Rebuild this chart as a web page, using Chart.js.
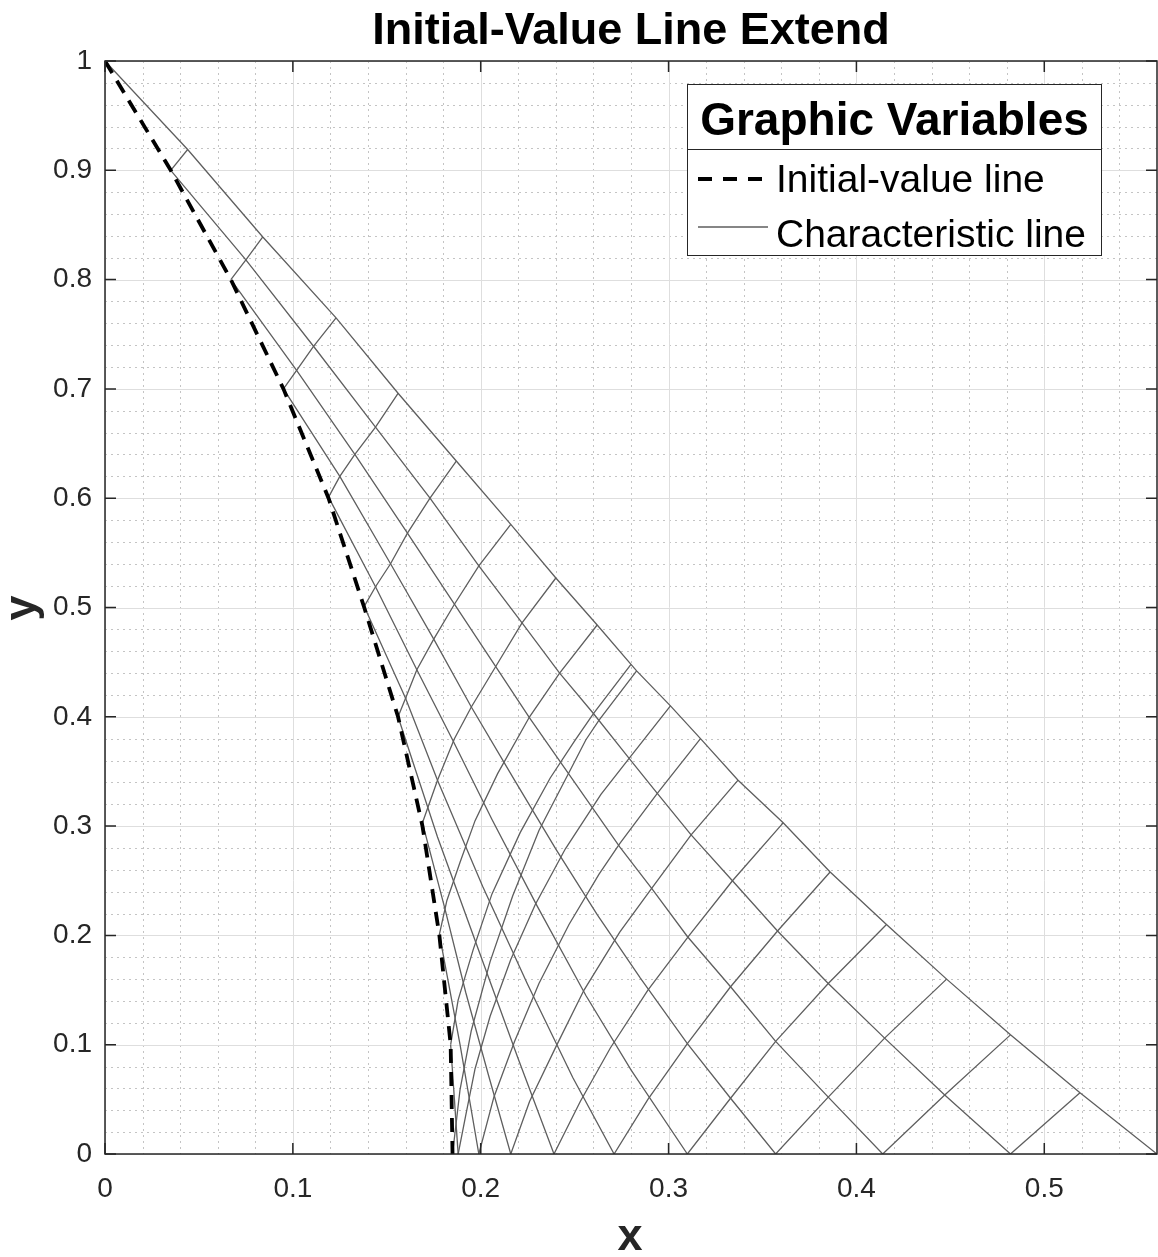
<!DOCTYPE html>
<html>
<head>
<meta charset="utf-8">
<title>Initial-Value Line Extend</title>
<script src="https://cdn.jsdelivr.net/npm/chart.js@4.4.1/dist/chart.umd.min.js"></script>
<style>
    html, body { margin: 0; padding: 0; background: #ffffff; }
    #wrap { width: 1158px; height: 1257px; }
</style>
</head>
<body>
<div id="wrap"><canvas id="graph1" width="1158" height="1257"></canvas></div>
<script>
/*
    Characteristic net: initial-value line plus the two families of characteristics
*/

// initial-value line (dashed)
const initX = [0, 0.035, 0.067, 0.095, 0.119, 0.138, 0.156, 0.169, 0.178, 0.184, 0.185];
const initY = [1, 0.9, 0.8, 0.7, 0.6, 0.5, 0.4, 0.3, 0.2, 0.1, 0];

// C- characteristics, one line per initial point, running down to y = 0
const minusX = [
    [0, 0.044, 0.084, 0.123, 0.156, 0.187, 0.216, 0.240, 0.262, 0.280, 0.283, 0.301, 0.317, 0.337, 0.361, 0.386, 0.416, 0.448, 0.482, 0.519, 0.56],
    [0.035, 0.075, 0.111, 0.144, 0.173, 0.199, 0.222, 0.242, 0.260, 0.279, 0.294, 0.312, 0.334, 0.358, 0.385, 0.415, 0.447, 0.482],
    [0.067, 0.102, 0.133, 0.161, 0.186, 0.208, 0.226, 0.274, 0.291, 0.310, 0.333, 0.357, 0.385, 0.414],
    [0.095, 0.125, 0.152, 0.175, 0.195, 0.218, 0.240, 0.262, 0.285, 0.310, 0.333, 0.357],
    [0.119, 0.144, 0.166, 0.185, 0.206, 0.230, 0.256, 0.280, 0.310],
    [0.138, 0.160, 0.177, 0.201, 0.225, 0.249, 0.271],
    [0.156, 0.177, 0.199, 0.220, 0.239],
    [0.169, 0.181, 0.192, 0.204, 0.216],
    [0.178, 0.189, 0.199],
    [0.184, 0.188]
];
const minusY = [
    [1, 0.919, 0.839, 0.765, 0.696, 0.634, 0.576, 0.527, 0.484, 0.448, 0.442, 0.410, 0.380, 0.342, 0.303, 0.258, 0.210, 0.160, 0.109, 0.056, 0],
    [0.900, 0.818, 0.739, 0.665, 0.600, 0.538, 0.486, 0.440, 0.403, 0.362, 0.330, 0.292, 0.250, 0.204, 0.156, 0.106, 0.054, 0],
    [0.800, 0.717, 0.640, 0.568, 0.503, 0.446, 0.399, 0.281, 0.243, 0.199, 0.153, 0.103, 0.052, 0],
    [0.700, 0.620, 0.540, 0.471, 0.409, 0.342, 0.279, 0.219, 0.161, 0.101, 0.051, 0],
    [0.601, 0.519, 0.443, 0.379, 0.306, 0.227, 0.145, 0.077, 0],
    [0.501, 0.417, 0.342, 0.245, 0.155, 0.070, 0],
    [0.400, 0.290, 0.186, 0.087, 0],
    [0.303, 0.224, 0.148, 0.073, 0],
    [0.201, 0.100, 0],
    [0.100, 0]
];

// C+ characteristics from the initial points, running up to the outer C- line
const plusX = [
    [0.035, 0.044],
    [0.067, 0.075, 0.084],
    [0.095, 0.102, 0.111, 0.123],
    [0.119, 0.125, 0.133, 0.144, 0.156],
    [0.138, 0.144, 0.152, 0.161, 0.173, 0.187],
    [0.156, 0.160, 0.166, 0.175, 0.186, 0.199, 0.216],
    [0.169, 0.177, 0.186, 0.195, 0.208, 0.222, 0.240],
    [0.178, 0.182, 0.189, 0.197, 0.209, 0.226, 0.242, 0.262],
    [0.184, 0.188, 0.196, 0.206, 0.221, 0.237, 0.250, 0.260, 0.280],
    [0.185, 0.189, 0.195, 0.205, 0.217, 0.231, 0.247, 0.256, 0.263, 0.283]
];
const plusY = [
    [0.900, 0.919],
    [0.800, 0.818, 0.839],
    [0.700, 0.717, 0.739, 0.765],
    [0.601, 0.620, 0.640, 0.665, 0.696],
    [0.501, 0.519, 0.540, 0.568, 0.600, 0.634],
    [0.400, 0.417, 0.443, 0.471, 0.503, 0.538, 0.576],
    [0.303, 0.342, 0.380, 0.409, 0.446, 0.486, 0.527],
    [0.201, 0.232, 0.267, 0.305, 0.348, 0.400, 0.440, 0.484],
    [0.100, 0.141, 0.187, 0.238, 0.294, 0.344, 0.378, 0.403, 0.448],
    [0, 0.059, 0.113, 0.176, 0.236, 0.296, 0.349, 0.379, 0.397, 0.442]
];

// C+ lines reflected from y = 0
const reflX = [
    [0.188, 0.192, 0.197, 0.205, 0.216, 0.229, 0.245, 0.264, 0.279, 0.301],
    [0.199, 0.207, 0.218, 0.231, 0.247, 0.263, 0.274, 0.294, 0.317],
    [0.216, 0.226, 0.240, 0.255, 0.274, 0.291, 0.312, 0.337],
    [0.239, 0.253, 0.269, 0.289, 0.311, 0.334, 0.361],
    [0.271, 0.289, 0.310, 0.333, 0.358, 0.386],
    [0.310, 0.333, 0.357, 0.385, 0.416],
    [0.357, 0.385, 0.415, 0.448],
    [0.414, 0.447, 0.482],
    [0.482, 0.519]
];
const reflY = [
    [0, 0.035, 0.078, 0.126, 0.178, 0.228, 0.279, 0.329, 0.362, 0.410],
    [0, 0.052, 0.103, 0.156, 0.210, 0.256, 0.284, 0.330, 0.380],
    [0, 0.048, 0.098, 0.150, 0.203, 0.243, 0.292, 0.342],
    [0, 0.048, 0.097, 0.150, 0.200, 0.250, 0.303],
    [0, 0.050, 0.101, 0.153, 0.204, 0.258],
    [0, 0.051, 0.103, 0.156, 0.210],
    [0, 0.052, 0.106, 0.160],
    [0, 0.054, 0.109],
    [0, 0.056]
];

// axis ticks
const xTicks = [0, 0.1, 0.2, 0.3, 0.4, 0.5];
const yTicks = [0, 0.1, 0.2, 0.3, 0.4, 0.5, 0.6, 0.7, 0.8, 0.9, 1];
const xMax = 0.56;

const FONT = "'Liberation Sans', Arial, Helvetica, sans-serif";
const CHAR_COLOR = '#5e5e5e';

function toPoints(xs, ys){
    return xs.map((v, i) => ({x: v, y: ys[i]}));
}

const datasets = [];
// dashed initial-value line first so it is drawn on top
datasets.push({
    label: 'Initial-value line',
    data: toPoints(initX, initY),
    borderColor: '#000000',
    borderWidth: 3.8,
    borderDash: [14, 9],
    showLine: true,
    pointRadius: 0,
    tension: 0
});
[[minusX, minusY], [plusX, plusY], [reflX, reflY]].forEach(pair => {
    pair[0].forEach((xs, k) => {
        datasets.push({
            label: 'Characteristic line',
            data: toPoints(xs, pair[1][k]),
            borderColor: CHAR_COLOR,
            borderWidth: 1.3,
            showLine: true,
            pointRadius: 0,
            tension: 0
        });
    });
});

// grid, axes box, inward ticks, titles and the legend box
const decorations = {
    id: 'decorations',
    beforeDatasetsDraw(chart){
        const {ctx, chartArea: a, scales: {x, y}} = chart;
        ctx.save();
        // minor dotted grid
        ctx.strokeStyle = '#c4c4c4';
        ctx.lineWidth = 1;
        ctx.setLineDash([2, 4]);
        for (let i = 1; i * 0.02 < xMax - 1e-9; i++){
            if (i % 5 === 0) continue;
            const px = Math.round(x.getPixelForValue(i * 0.02)) + 0.5;
            ctx.beginPath(); ctx.moveTo(px, a.top); ctx.lineTo(px, a.bottom); ctx.stroke();
        }
        for (let i = 1; i < 50; i++){
            if (i % 5 === 0) continue;
            const py = Math.round(y.getPixelForValue(i * 0.02)) + 0.5;
            ctx.beginPath(); ctx.moveTo(a.left, py); ctx.lineTo(a.right, py); ctx.stroke();
        }
        // major solid grid
        ctx.setLineDash([]);
        ctx.strokeStyle = '#dedede';
        xTicks.forEach(v => {
            const px = Math.round(x.getPixelForValue(v)) + 0.5;
            ctx.beginPath(); ctx.moveTo(px, a.top); ctx.lineTo(px, a.bottom); ctx.stroke();
        });
        yTicks.forEach(v => {
            const py = Math.round(y.getPixelForValue(v)) + 0.5;
            ctx.beginPath(); ctx.moveTo(a.left, py); ctx.lineTo(a.right, py); ctx.stroke();
        });
        ctx.restore();
    },
    afterDraw(chart){
        const {ctx, chartArea: a, scales: {x, y}} = chart;
        ctx.save();
        // axes box
        ctx.strokeStyle = '#262626';
        ctx.lineWidth = 1.5;
        ctx.strokeRect(a.left, a.top, a.right - a.left, a.bottom - a.top);
        // inward ticks on all four sides
        const tl = 11;
        ctx.beginPath();
        xTicks.forEach(v => {
            const px = x.getPixelForValue(v);
            ctx.moveTo(px, a.bottom); ctx.lineTo(px, a.bottom - tl);
            ctx.moveTo(px, a.top); ctx.lineTo(px, a.top + tl);
        });
        yTicks.forEach(v => {
            const py = y.getPixelForValue(v);
            ctx.moveTo(a.left, py); ctx.lineTo(a.left + tl, py);
            ctx.moveTo(a.right, py); ctx.lineTo(a.right - tl, py);
        });
        ctx.stroke();

        // title and axis labels
        ctx.fillStyle = '#000000';
        ctx.textAlign = 'center';
        ctx.textBaseline = 'alphabetic';
        ctx.font = 'bold 45px ' + FONT;
        ctx.fillText('Initial-Value Line Extend', (a.left + a.right) / 2, 44);
        ctx.fillStyle = '#262626';
        ctx.fillText('x', 630, 1250);
        ctx.save();
        ctx.translate(35, 608);
        ctx.rotate(-Math.PI / 2);
        ctx.fillText('y', 0, 0);
        ctx.restore();

        // legend
        const L = 687.5, T = 84.5, R = 1101.5, B = 255.5;
        ctx.fillStyle = '#ffffff';
        ctx.fillRect(L, T, R - L, B - T);
        ctx.strokeStyle = '#262626';
        ctx.lineWidth = 1;
        ctx.strokeRect(L, T, R - L, B - T);
        ctx.beginPath(); ctx.moveTo(L, 149.5); ctx.lineTo(R, 149.5); ctx.stroke();
        ctx.fillStyle = '#000000';
        ctx.font = 'bold 46px ' + FONT;
        ctx.textAlign = 'center';
        ctx.fillText('Graphic Variables', (L + R) / 2, 135);
        ctx.textAlign = 'left';
        ctx.font = '39px ' + FONT;
        ctx.fillText('Initial-value line', 776, 192);
        ctx.fillText('Characteristic line', 776, 247);
        ctx.strokeStyle = '#000000';
        ctx.lineWidth = 4;
        ctx.setLineDash([14, 11]);
        ctx.beginPath(); ctx.moveTo(698, 179); ctx.lineTo(770, 179); ctx.stroke();
        ctx.setLineDash([]);
        ctx.strokeStyle = CHAR_COLOR;
        ctx.lineWidth = 1.3;
        ctx.beginPath(); ctx.moveTo(698, 227); ctx.lineTo(768, 227); ctx.stroke();
        ctx.restore();
    }
};

const ctx = document.getElementById('graph1');
const myChart = new Chart(ctx, {
    type: 'scatter',
    data: { datasets: datasets },
    options: {
        responsive: false,
        animation: false,
        events: [],
        layout: { padding: { top: 61, right: 1, left: 0, bottom: 0 } },
        scales: {
            x: {
                type: 'linear',
                min: 0,
                max: xMax,
                afterFit: s => { s.height = 103; },
                grid: { display: false, drawTicks: false },
                border: { display: false },
                ticks: {
                    stepSize: 0.1,
                    includeBounds: false,
                    autoSkip: false,
                    maxRotation: 0,
                    padding: 18,
                    color: '#262626',
                    font: { family: FONT, size: 28 },
                    callback: v => String(Math.round(v * 10) / 10)
                }
            },
            y: {
                type: 'linear',
                min: 0,
                max: 1,
                afterFit: s => { s.width = 105; },
                grid: { display: false, drawTicks: false },
                border: { display: false },
                ticks: {
                    stepSize: 0.1,
                    autoSkip: false,
                    padding: 13,
                    color: '#262626',
                    font: { family: FONT, size: 28 },
                    callback: v => String(Math.round(v * 10) / 10)
                }
            }
        },
        plugins: {
            legend: { display: false },
            tooltip: { enabled: false },
            title: { display: false }
        }
    },
    plugins: [decorations]
});
</script>
</body>
</html>
